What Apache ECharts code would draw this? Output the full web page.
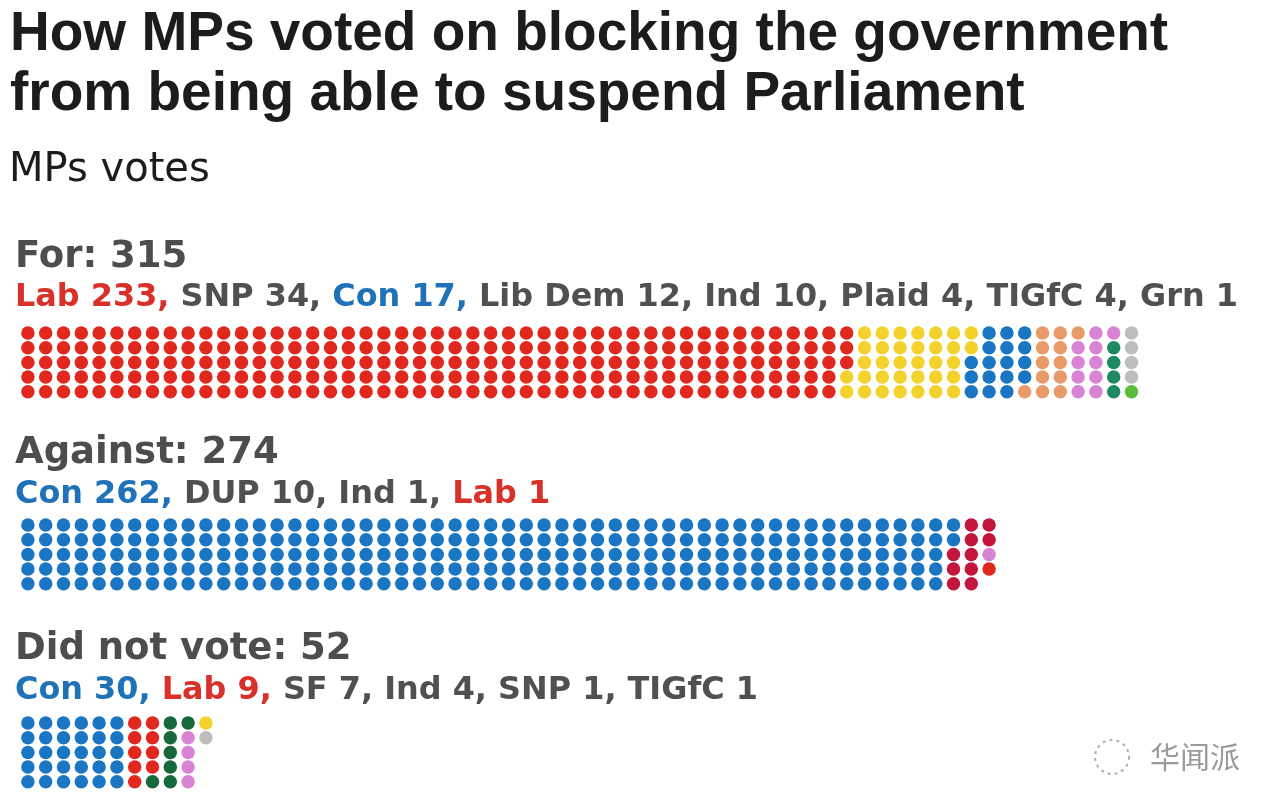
<!DOCTYPE html>
<html>
<head>
<meta charset="utf-8">
<script src="https://cdn.jsdelivr.net/npm/echarts@6/dist/echarts.min.js"></script>
<style>html,body{margin:0;padding:0;background:#fff;}#c{width:1280px;height:812px;}</style>
</head>
<body>
<div id="c"></div>
<script>
// ---- data ----
const forParties = ['Lab', 'SNP', 'Con', 'Lib Dem', 'Ind', 'Plaid', 'TIGfC', 'Grn'];
const forCounts = [233, 34, 17, 12, 10, 4, 4, 1];
const againstParties = ['Con', 'DUP', 'Ind', 'Lab'];
const againstCounts = [262, 10, 1, 1];
const dnvParties = ['Con', 'Lab', 'SF', 'Ind', 'SNP', 'TIGfC'];
const dnvCounts = [30, 9, 7, 4, 1, 1];
const groupTitles = ['For', 'Against', 'Did not vote'];

const partyColors = {
  'Lab': '#e0281e', 'SNP': '#f4d22e', 'Con': '#1a76c2', 'Lib Dem': '#e89a68',
  'Ind': '#d983d4', 'Plaid': '#1f8a62', 'TIGfC': '#bdbdbd', 'Grn': '#5cbd3a',
  'DUP': '#c3163c', 'SF': '#17693c'
};
const textColors = { 'Lab': '#d9302a', 'Con': '#1f72b8' };
const ROWS = 5;

const groups = [
  { parties: forParties, counts: forCounts },
  { parties: againstParties, counts: againstCounts },
  { parties: dnvParties, counts: dnvCounts }
];

// ---- layout ----
const colStep = 17.8, rowStep = 14.7, nCols = 70, left = 19;
const firstRowY = [333, 525, 723];
const headY = [257, 453, 649];
const partyY = [298, 495, 691];

const grids = [], xAxes = [], yAxes = [], series = [], graphics = [];
groups.forEach((g, gi) => {
  grids.push({ left: left, top: firstRowY[gi] - rowStep / 2, width: nCols * colStep, height: ROWS * rowStep });
  xAxes.push({ type: 'value', gridIndex: gi, min: -0.5, max: nCols - 0.5, show: false });
  yAxes.push({ type: 'value', gridIndex: gi, min: -0.5, max: ROWS - 0.5, inverse: true, show: false });
  let idx = 0;
  g.parties.forEach((p, pi) => {
    const pts = [];
    for (let k = 0; k < g.counts[pi]; k++, idx++) {
      pts.push([Math.floor(idx / ROWS), idx % ROWS]);
    }
    series.push({
      type: 'scatter', name: p, xAxisIndex: gi, yAxisIndex: gi,
      data: pts, symbol: 'circle', symbolSize: 13.5,
      itemStyle: { color: partyColors[p], opacity: 1 }, silent: true, animation: false
    });
  });
  const total = g.counts.reduce((a, b) => a + b, 0);
  graphics.push({
    type: 'text', x: 15, y: headY[gi],
    style: { text: groupTitles[gi] + ': ' + total, font: 'bold 37px "DejaVu Sans"', fill: '#4d4d4d', verticalAlign: 'middle' }
  });
  const parts = g.parties.map((p, pi) => {
    const key = textColors[p] ? (p === 'Lab' ? 'lab' : 'con') : 'g';
    return '{' + key + '|' + p + ' ' + g.counts[pi] + (pi < g.parties.length - 1 ? ',' : '') + '}';
  });
  const rs = { fontFamily: 'DejaVu Sans', fontWeight: 'bold', fontSize: 31.9 };
  graphics.push({
    type: 'text', x: 15, y: partyY[gi],
    style: {
      text: parts.join('{g| }'), verticalAlign: 'middle',
      rich: {
        g: Object.assign({ fill: '#505050' }, rs),
        lab: Object.assign({ fill: textColors['Lab'] }, rs),
        con: Object.assign({ fill: textColors['Con'] }, rs)
      }
    }
  });
});

graphics.push(
  { type: 'text', x: 10, y: 35, style: { text: 'How MPs voted on blocking the government', font: 'bold 55px "Liberation Sans"', fill: '#1c1c1c', verticalAlign: 'middle' } },
  { type: 'text', x: 10, y: 95, style: { text: 'from being able to suspend Parliament', font: 'bold 55px "Liberation Sans"', fill: '#1c1c1c', verticalAlign: 'middle' } },
  { type: 'text', x: 9, y: 171, style: { text: 'MPs votes', font: '40px "DejaVu Sans"', fill: '#1c1c1c', verticalAlign: 'middle' } },
  { type: 'circle', shape: { cx: 1112, cy: 757, r: 17 }, style: { fill: 'none', stroke: '#b0b0b0', lineWidth: 2, lineDash: [3, 4] } },
  { type: 'text', x: 1150, y: 757, style: { text: '华闻派', font: '30px "Noto Sans CJK SC"', fill: '#9a9a9a', verticalAlign: 'middle' } }
);

const chart = echarts.init(document.getElementById('c'));
chart.setOption({
  backgroundColor: '#ffffff',
  animation: false,
  grid: grids, xAxis: xAxes, yAxis: yAxes,
  series: series,
  graphic: graphics
});
</script>
</body>
</html>
